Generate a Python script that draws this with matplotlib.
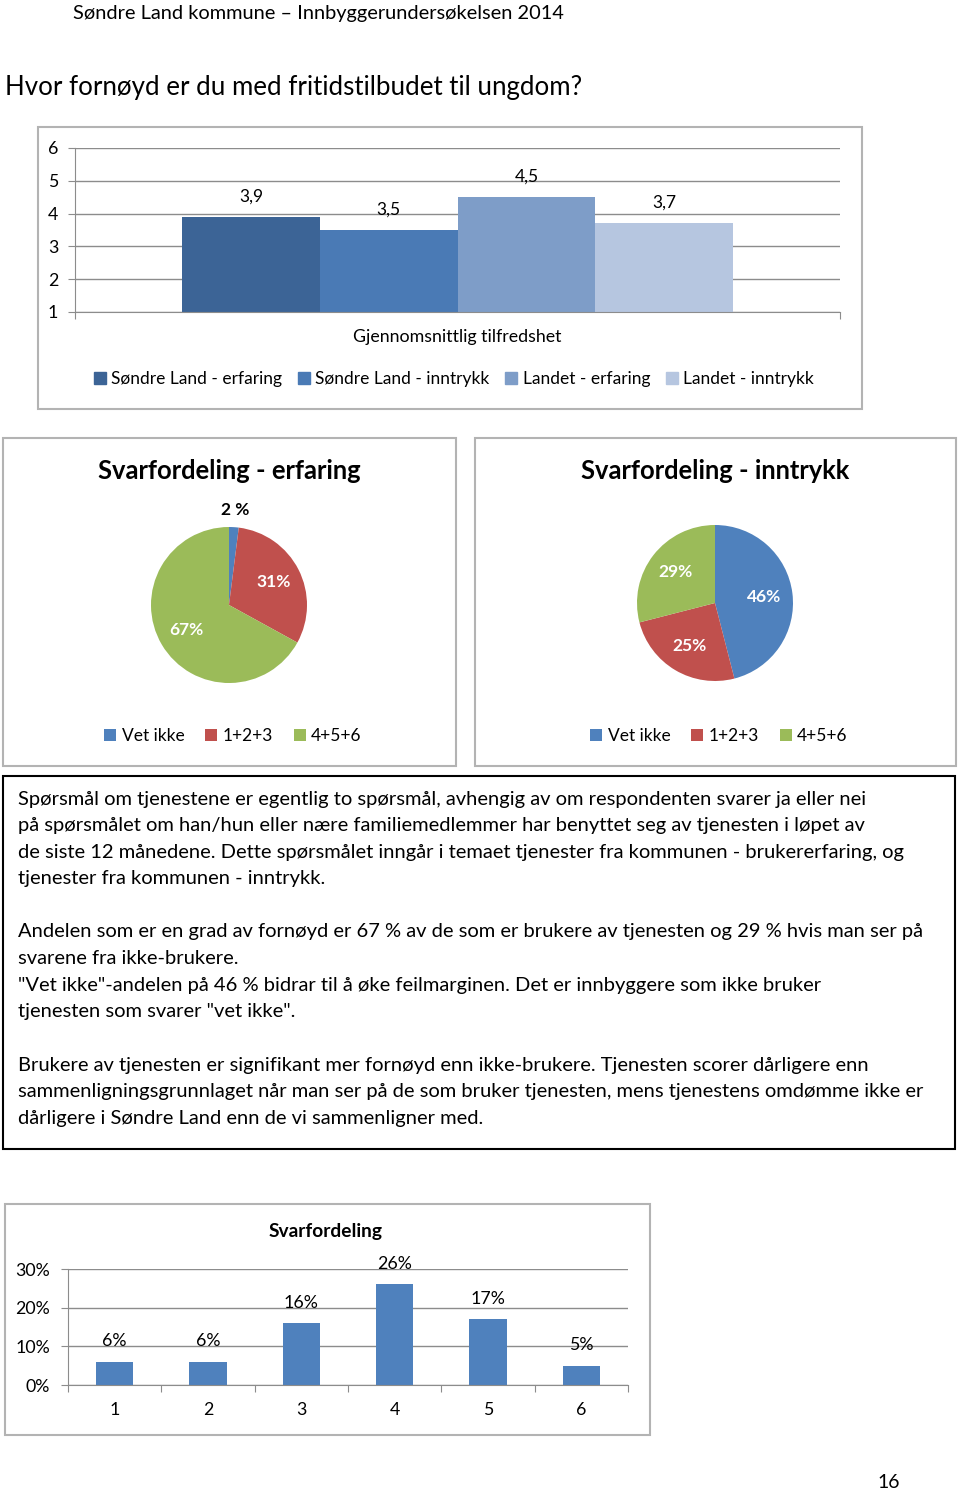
import numpy as np
import matplotlib
matplotlib.use("Agg")
import matplotlib.pyplot as plt
from matplotlib.patches import Rectangle, Patch
from matplotlib.ticker import PercentFormatter

plt.rcParams['font.family'] = ['Lato', 'DejaVu Sans']

# Data
header = "Søndre Land kommune – Innbyggerundersøkelsen 2014"
question = "Hvor fornøyd er du med fritidstilbudet til ungdom?"

mean_series = ["Søndre Land - erfaring", "Søndre Land - inntrykk", "Landet - erfaring", "Landet - inntrykk"]
mean_values = [3.9, 3.5, 4.5, 3.7]
mean_category = "Gjennomsnittlig tilfredshet"

pie_categories = ["Vet ikke", "1+2+3", "4+5+6"]
erfaring_values = [2, 31, 67]
erfaring_labels = ["2 %", "31%", "67%"]
inntrykk_values = [46, 25, 29]
inntrykk_labels = ["46%", "25%", "29%"]

text_lines = [
    "Spørsmål om tjenestene er egentlig to spørsmål, avhengig av om respondenten svarer ja eller nei",
    "på spørsmålet om han/hun eller nære familiemedlemmer har benyttet seg av tjenesten i løpet av",
    "de siste 12 månedene. Dette spørsmålet inngår i temaet tjenester fra kommunen - brukererfaring, og",
    "tjenester fra kommunen - inntrykk.",
    "",
    "Andelen som er en grad av fornøyd er 67 % av de som er brukere av tjenesten og 29 % hvis man ser på",
    "svarene fra ikke-brukere.",
    "\"Vet ikke\"-andelen på 46 % bidrar til å øke feilmarginen. Det er innbyggere som ikke bruker",
    "tjenesten som svarer \"vet ikke\".",
    "",
    "Brukere av tjenesten er signifikant mer fornøyd enn ikke-brukere. Tjenesten scorer dårligere enn",
    "sammenligningsgrunnlaget når man ser på de som bruker tjenesten, mens tjenestens omdømme ikke er",
    "dårligere i Søndre Land enn de vi sammenligner med.",
]

dist_categories = ["1", "2", "3", "4", "5", "6"]
dist_values = [0.06, 0.06, 0.16, 0.26, 0.17, 0.05]

page_number = "16"

W, H = 960, 1491
fig = plt.figure(figsize=(W / 100, H / 100), dpi=100)
fig.patch.set_facecolor("white")


def rect(x0, y0, x1, y1):
    return [x0 / W, 1 - y1 / H, (x1 - x0) / W, (y1 - y0) / H]


def frame(x0, y0, x1, y1, color="#b3b3b3", lw=1.5):
    fig.patches.append(Rectangle((x0 / W, 1 - y1 / H), (x1 - x0) / W, (y1 - y0) / H,
                                 transform=fig.transFigure, fill=False,
                                 edgecolor=color, lw=lw))


def ftext(x, y, s, **kw):
    fig.text(x / W, 1 - y / H, s, **kw)


grid_col = "#8c8c8c"

ftext(73, 13, header, fontsize=14.4, va="center", ha="left")
ftext(5, 87, question, fontsize=18.6, va="center", ha="left")

# Chart 1: mean satisfaction
frame(38, 127, 862, 409)
ax1 = fig.add_axes(rect(75, 148, 840, 312))
bar_colors = ["#3c6496", "#4a7ab5", "#7e9dc8", "#b6c6e0"]
w = 0.18
offsets = (np.arange(len(mean_values)) - 1.5) * w
bars = ax1.bar(offsets, mean_values, width=w, color=bar_colors, label=mean_series)
ax1.bar_label(bars, labels=[f"{v:.1f}".replace(".", ",") for v in mean_values],
              padding=9, fontsize=12.5)
ax1.set_xlim(-0.5, 0.5)
ax1.set_ylim(1, 6)
ax1.set_yticks(range(1, 7))
ax1.yaxis.grid(True, color=grid_col, lw=1)
ax1.set_axisbelow(True)
for s in ["top", "right"]:
    ax1.spines[s].set_visible(False)
for s in ["left", "bottom"]:
    ax1.spines[s].set_color(grid_col)
ax1.set_xticks([-0.5, 0.5])
ax1.set_xticklabels([])
ax1.set_xticks([0], [mean_category], minor=True)
ax1.tick_params(axis="x", which="major", length=5, color=grid_col)
ax1.tick_params(axis="x", which="minor", length=0, pad=12, labelsize=12.8)
ax1.tick_params(axis="y", length=5, color=grid_col, pad=7, labelsize=12.8)
handles = [Patch(color=c) for c in bar_colors]
ax1.legend(handles, mean_series, ncol=4, loc="center",
           bbox_to_anchor=(454 / W, 1 - 379 / H), bbox_transform=fig.transFigure,
           frameon=False, handlelength=0.7, handleheight=0.7, handletextpad=0.3,
           columnspacing=0.9, fontsize=12.5)

# Pie charts
pie_colors = ["#4f81bd", "#c0504d", "#9bbb59"]


def pie_chart(box, center, title, title_x, values, labels, legend_x):
    frame(*box)
    cx, cy = center
    r = 78
    ax = fig.add_axes(rect(cx - r, cy - r, cx + r, cy + r))
    wedges, _, autotexts = ax.pie(values, colors=pie_colors, startangle=90,
                                  counterclock=False, autopct="%d",
                                  pctdistance=0.64,
                                  textprops=dict(color="white", fontsize=12.5,
                                                 fontweight="bold"))
    for t, lab, v in zip(autotexts, labels, values):
        t.set_text(lab)
        if v < 5:
            x, y = t.get_position()
            n = np.hypot(x, y)
            t.set_position((x / n * 1.22, y / n * 1.22))
            t.set_color("black")
    ax.set_xlim(-1, 1)
    ax.set_ylim(-1, 1)
    ftext(title_x, 471, title, fontsize=18.4, fontweight="bold", ha="center", va="center")
    ax.legend(wedges, pie_categories, ncol=3, loc="center",
              bbox_to_anchor=(legend_x / W, 1 - 736 / H), bbox_transform=fig.transFigure,
              frameon=False, handlelength=0.7, handleheight=0.7, handletextpad=0.3,
              columnspacing=1.2, fontsize=12.5)


pie_chart((3, 438, 456, 766), (229, 605), "Svarfordeling - erfaring", 229,
          erfaring_values, erfaring_labels, 233)
pie_chart((475, 438, 956, 766), (715, 603), "Svarfordeling - inntrykk", 715,
          inntrykk_values, inntrykk_labels, 719)

# Text box
frame(3, 776, 955, 1149, color="black", lw=1.5)
for i, line in enumerate(text_lines):
    ftext(18, 799 + i * 26.6, line, fontsize=14.5, va="center", ha="left")

# Chart 3: answer distribution
frame(5, 1204, 650, 1435)
ftext(326, 1232, "Svarfordeling", fontsize=13.8, fontweight="bold", ha="center", va="center")
ax3 = fig.add_axes(rect(68, 1269, 628, 1385))
xs = np.arange(1, len(dist_values) + 1)
bars3 = ax3.bar(xs, dist_values, width=0.4, color="#4f81bd")
ax3.bar_label(bars3, labels=[f"{round(v * 100)}%" for v in dist_values],
              padding=9, fontsize=12.8)
ax3.set_xlim(0.5, len(dist_values) + 0.5)
ax3.set_ylim(0, 0.3)
ax3.set_yticks([0, 0.1, 0.2, 0.3])
ax3.yaxis.set_major_formatter(PercentFormatter(1.0, decimals=0))
ax3.yaxis.grid(True, color=grid_col, lw=1)
ax3.set_axisbelow(True)
for s in ["top", "right"]:
    ax3.spines[s].set_visible(False)
for s in ["left", "bottom"]:
    ax3.spines[s].set_color(grid_col)
ax3.set_xticks(np.arange(0.5, len(dist_values) + 1, 1))
ax3.set_xticklabels([])
ax3.set_xticks(xs, dist_categories, minor=True)
ax3.tick_params(axis="x", which="major", length=5, color=grid_col)
ax3.tick_params(axis="x", which="minor", length=0, pad=12, labelsize=12.8)
ax3.tick_params(axis="y", length=5, color=grid_col, pad=8, labelsize=12.8)

ftext(889, 1482, page_number, fontsize=14, ha="center", va="center")

fig.savefig("out.png", dpi=100)
